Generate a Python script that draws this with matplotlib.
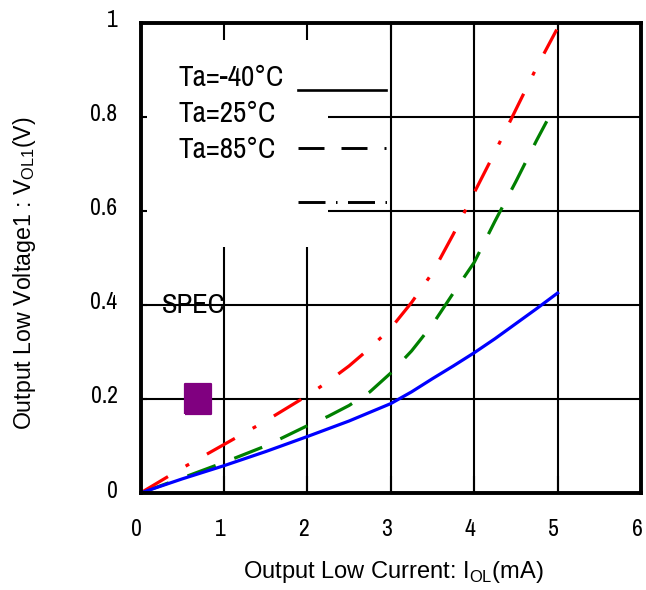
import matplotlib
matplotlib.use("Agg")
import matplotlib.pyplot as plt
from matplotlib import font_manager as fm
from matplotlib.patches import Rectangle
from matplotlib.markers import MarkerStyle
from matplotlib.transforms import ScaledTranslation

# ---------------- data ----------------
x_blue = [0, 0.5, 1, 1.5, 2, 2.5, 3, 3.25, 3.5, 3.75, 4, 4.25, 4.5, 4.75, 5]
y_blue = [0, 0.03, 0.058, 0.088, 0.12, 0.153, 0.19, 0.215, 0.243, 0.27, 0.298, 0.328,
          0.36, 0.392, 0.425]

x_green = [0, 0.5, 1, 1.5, 2, 2.25, 2.5, 2.75, 3, 3.25, 3.5, 3.75, 4, 4.25, 4.5, 4.75, 4.87]
y_green = [0, 0.032, 0.065, 0.1, 0.143, 0.163, 0.186, 0.215, 0.255, 0.302, 0.358, 0.425,
           0.49, 0.578, 0.662, 0.75, 0.79]

x_red = [0, 0.5, 1, 1.5, 2, 2.25, 2.5, 2.75, 3, 3.25, 3.5, 3.75, 4, 4.25, 4.5, 4.75, 4.99]
y_red = [0, 0.053, 0.103, 0.153, 0.207, 0.237, 0.27, 0.308, 0.35, 0.405, 0.468, 0.55,
         0.638, 0.725, 0.815, 0.905, 0.985]

spec_x = [0.69]
spec_y = [0.2]
spec_label = "SPEC"

xticks = [0, 1, 2, 3, 4, 5, 6]
yticks = [0, 0.2, 0.4, 0.6, 0.8, 1.0]
ytick_labels = ["0", "0.2", "0.4", "0.6", "0.8", "1"]

legend_labels = ["Ta=-40°C", "Ta=25°C", "Ta=85°C"]

xlabel = r"Output Low Current: I$_{\mathregular{OL}}$(mA)"
ylabel = r"Output Low Voltage1 : V$_{\mathregular{OL1}}$(V)"

# ---------------- fonts ----------------
names = {f.name for f in fm.fontManager.ttflist}
NARROW = "DejaVu Sans"
for cand in ["Liberation Sans Narrow", "Arial Narrow", "Nimbus Sans Narrow",
             "Archivo Narrow", "Roboto Condensed", "PT Sans Narrow",
             "Open Sans Condensed", "Barlow Condensed"]:
    if cand in names:
        NARROW = cand
        break
LABELF = "Liberation Sans" if "Liberation Sans" in names else "DejaVu Sans"
plt.rcParams["lines.scale_dashes"] = False

DPI = 100
fig = plt.figure(figsize=(6.46, 5.90), dpi=DPI)
ax = fig.add_axes([140.5 / 646, 1 - 493 / 590, 500.5 / 646, 470.5 / 590])
ax.set_xlim(0, 6)
ax.set_ylim(0, 1)

px = 0.72  # points per pixel

# grid lines
for xv in xticks[1:-1]:
    ax.axvline(xv, color="black", lw=1.5, zorder=1)
for yv in yticks[1:-1]:
    ax.axhline(yv, color="black", lw=1.5, zorder=1)

# white legend area covering part of the grid
ax.add_patch(Rectangle((0, 0.523), 2.245, 0.477, facecolor="white",
                       edgecolor="none", zorder=1.2))

# curves
ax.plot(x_green, y_green, color="#008000", lw=2.3, zorder=3,
        dashes=(30 * px, 20 * px), dash_capstyle="butt")
ax.plot(x_red, y_red, color="#ff0000", lw=2.3, zorder=3.2,
        dashes=(32 * px, 20.5 * px, 4 * px, 20.5 * px), dash_capstyle="butt")
ax.plot(x_blue, y_blue, color="#0000ff", lw=2.3, zorder=3.4)

# SPEC marker
box = [(-0.875, -1), (0.875, -1), (0.875, 1), (-0.875, 1), (-0.875, -1)]
ax.plot(spec_x, spec_y, linestyle="none", marker=MarkerStyle(box, joinstyle="round"),
        markersize=21.5, color="#800080", markeredgecolor="#800080",
        markeredgewidth=1.6, zorder=4)
ax.text(0.257, 0.383, spec_label, fontsize=20.5, family=NARROW,
        ha="left", va="baseline", zorder=4)

# legend
tA = ax.transAxes
text_x = 0.45 / 6
text_y = [0.866, 0.788, 0.711]
for lab, ty in zip(legend_labels, text_y):
    ax.text(text_x, ty, lab, transform=tA, fontsize=21, family=NARROW,
            ha="left", va="baseline", zorder=4)
lx0, lx1 = (298 - 140.5) / 500.5, (386 - 140.5) / 500.5
ax.plot([lx0, lx1], [0.857, 0.857], transform=tA, color="black", lw=1.9, zorder=4)
ax.plot([lx0, lx1], [0.734, 0.734], transform=tA, color="black", lw=2.1, zorder=4,
        dashes=(26 * px, 17 * px), dash_capstyle="butt")
ax.plot([lx0, lx1 + 0.004], [0.619, 0.619], transform=tA, color="black", lw=2.1, zorder=4,
        dashes=(27 * px, 10.5 * px, 1.5 * px, 10.5 * px), dash_capstyle="butt")

# ticks
ax.set_xticks(xticks)
ax.set_xticklabels([str(v) for v in xticks])
ax.set_yticks(yticks)
ax.set_yticklabels(ytick_labels)
ax.tick_params(axis="x", direction="in", length=12, width=1.5, top=True, bottom=True,
               pad=18.5, labelsize=17, colors="black")
ax.tick_params(axis="y", direction="in", length=4.5, width=1.5, left=True, right=False,
               pad=16.5, labelsize=17, colors="black")
for lab in ax.get_xticklabels() + ax.get_yticklabels():
    lab.set_family(NARROW)
for lab in ax.get_xticklabels():
    lab.set_transform(lab.get_transform() + ScaledTranslation(-4 / DPI, 0, fig.dpi_scale_trans))
for lab in ax.get_yticklabels():
    lab.set_transform(lab.get_transform() + ScaledTranslation(0, 4 / DPI, fig.dpi_scale_trans))

for sp in ax.spines.values():
    sp.set_linewidth(2.8)
    sp.set_color("black")
    sp.set_zorder(5)

ax.set_xlabel(xlabel, fontsize=17, family=LABELF)
ax.set_ylabel(ylabel, fontsize=16.7, family=LABELF)
ax.xaxis.set_label_coords(0.506, -0.14)
ax.yaxis.set_label_coords(-0.205, 0.468)

fig.savefig("out.png", dpi=DPI)
